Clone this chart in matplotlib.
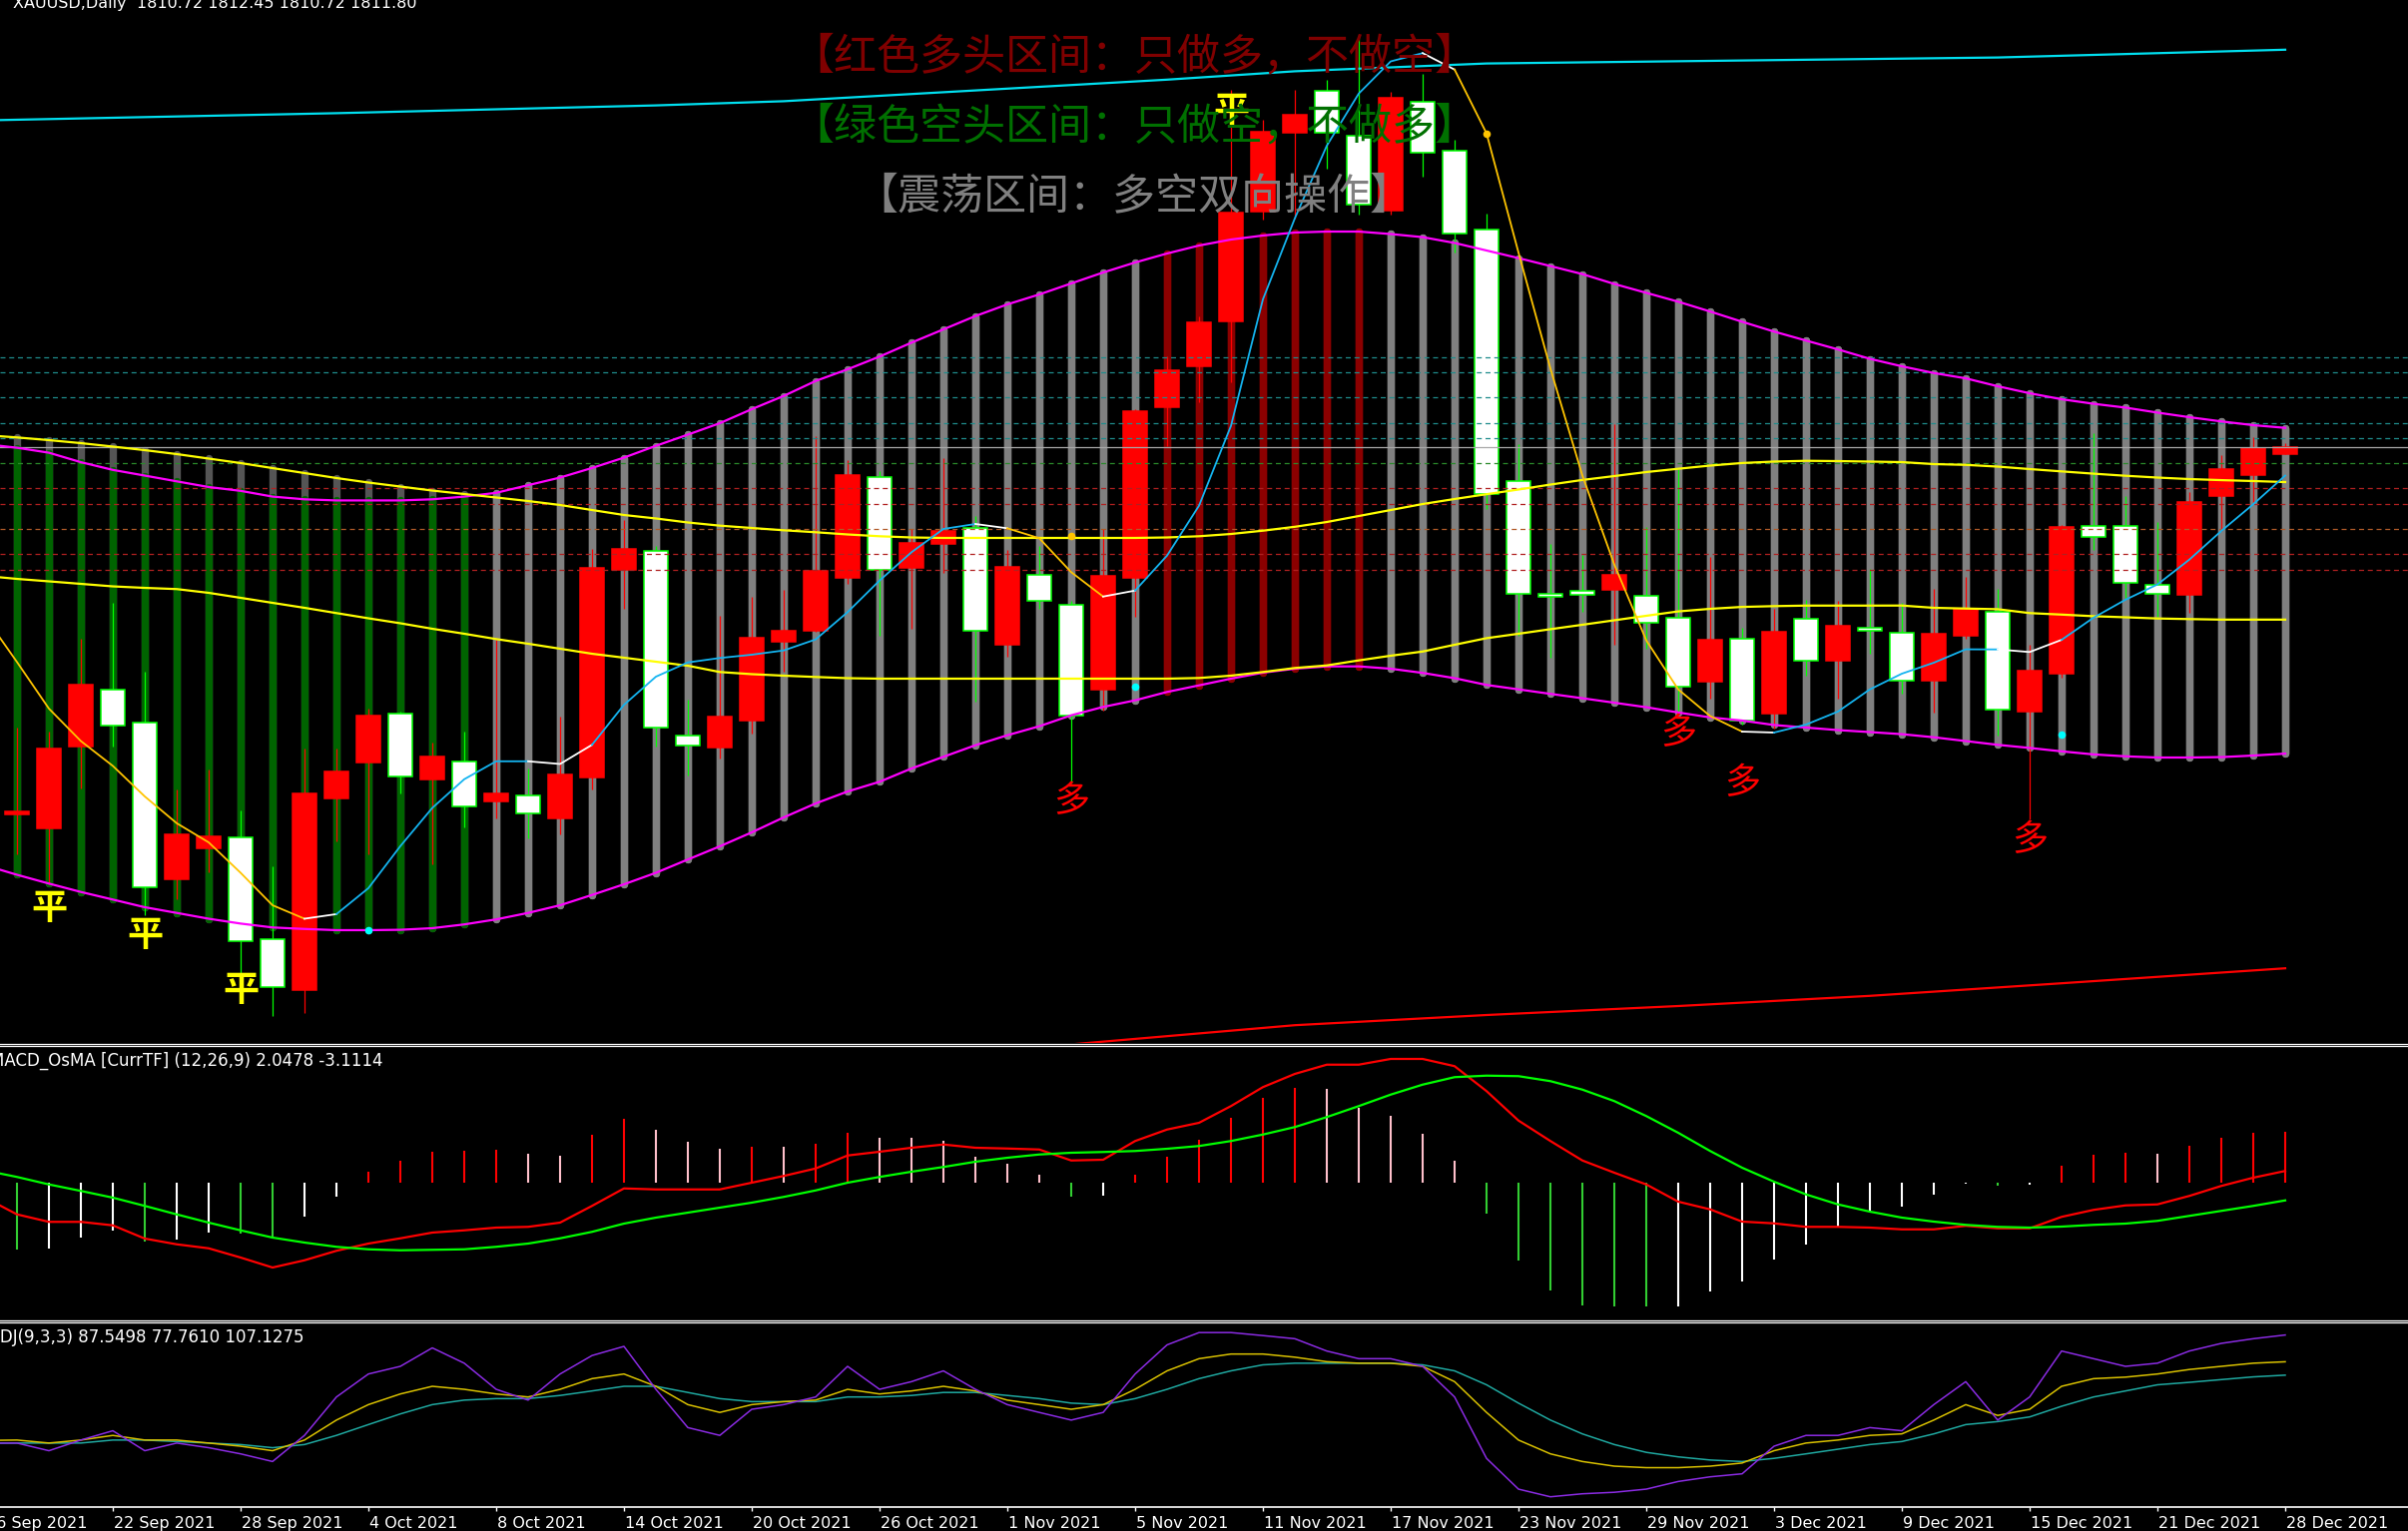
import numpy as np
import matplotlib.pyplot as plt
from matplotlib.lines import Line2D
from matplotlib import transforms

plt.rcParams['font.family'] = ['DejaVu Sans']

W, H = 2412, 1534

# ---- daily XAUUSD candles, bar 0 = 17 Sep 2021 ... bar 71 = 28 Dec 2021 ----
opens = [1750.5, 1748.2, 1761.9, 1771.4, 1765.9, 1739.6, 1744.9, 1746.7, 1729.6, 1721.2,
         1753.1, 1759.2, 1767.3, 1756.4, 1759.4, 1752.7, 1753.75, 1749.9, 1756.7, 1791.3,
         1794.45, 1763.7, 1761.7, 1766.2, 1779.4, 1781.1, 1789.95, 1806.8, 1791.7, 1795.7,
         1798.3, 1778.9, 1790.45, 1785.45, 1771.4, 1789.95, 1818.55, 1825.4, 1832.9, 1851.2,
         1864.3, 1871.3, 1863.8, 1851.4, 1869.45, 1861.4, 1848.1, 1806.1, 1787.4, 1787.9,
         1788.0, 1787.0, 1783.3, 1772.7, 1779.8, 1767.3, 1783.1, 1776.1, 1781.7, 1780.8,
         1772.8, 1780.4, 1784.3, 1767.7, 1774.0, 1798.6, 1798.6, 1788.9, 1787.2, 1803.6,
         1807.2, 1810.72]
highs = [1765.0, 1764.3, 1779.8, 1785.8, 1774.4, 1754.6, 1758.0, 1751.1, 1741.9, 1761.5,
         1761.5, 1768.2, 1767.7, 1762.5, 1764.3, 1779.7, 1758.2, 1766.9, 1794.9, 1799.7,
         1795.4, 1769.7, 1783.6, 1786.9, 1788.0, 1813.7, 1809.7, 1807.9, 1798.2, 1810.0,
         1800.3, 1794.7, 1795.4, 1786.1, 1798.2, 1818.2, 1827.05, 1833.7, 1871.5, 1866.5,
         1871.5, 1873.2, 1880.7, 1871.1, 1874.1, 1863.2, 1850.8, 1812.3, 1795.6, 1793.8,
         1815.7, 1798.5, 1808.2, 1793.5, 1781.7, 1784.8, 1786.4, 1786.2, 1791.5, 1785.9,
         1788.1, 1790.2, 1788.1, 1778.8, 1798.9, 1814.1, 1803.6, 1799.4, 1804.3, 1810.45,
         1813.45, 1812.45]
lows = [1743.8, 1738.8, 1754.8, 1761.9, 1733.7, 1736.4, 1740.9, 1723.5, 1716.8, 1717.3,
        1746.0, 1743.9, 1754.0, 1742.1, 1748.4, 1749.8, 1746.5, 1747.2, 1754.6, 1784.9,
        1761.9, 1757.0, 1759.8, 1764.0, 1774.3, 1781.0, 1789.0, 1780.4, 1781.5, 1790.9,
        1769.4, 1776.9, 1784.8, 1755.7, 1767.9, 1783.45, 1812.05, 1819.3, 1822.7, 1849.8,
        1850.0, 1858.4, 1850.7, 1850.7, 1856.95, 1844.3, 1801.5, 1780.3, 1776.6, 1784.4,
        1778.8, 1778.1, 1767.7, 1769.9, 1765.5, 1764.8, 1773.7, 1769.8, 1777.3, 1770.7,
        1767.5, 1779.8, 1763.7, 1749.7, 1773.3, 1794.6, 1786.7, 1783.5, 1784.25, 1797.8,
        1802.7, 1810.72]
closes = [1751.0, 1761.5, 1772.2, 1765.3, 1738.3, 1747.2, 1746.8, 1729.3, 1721.6, 1754.0,
          1757.6, 1767.0, 1756.9, 1760.1, 1751.8, 1754.0, 1750.75, 1757.1, 1791.6, 1794.8,
          1765.0, 1762.05, 1766.9, 1780.0, 1781.1, 1791.2, 1807.2, 1791.4, 1795.8, 1797.8,
          1781.1, 1791.9, 1786.2, 1766.95, 1790.3, 1817.8, 1824.7, 1832.6, 1851.0, 1864.55,
          1867.3, 1864.4, 1852.3, 1870.2, 1861.0, 1847.5, 1804.0, 1787.4, 1786.8, 1787.2,
          1790.5, 1782.5, 1771.9, 1779.6, 1766.2, 1781.0, 1776.2, 1782.0, 1781.1, 1772.8,
          1780.7, 1784.75, 1768.0, 1774.5, 1798.5, 1796.9, 1789.1, 1787.4, 1802.7, 1808.2,
          1811.7, 1811.8]

# ---- line indicators, first value is the bar before 17 Sep (visible at left edge) ----
band_up = [1812.33,
           1811.73, 1810.9, 1809.32, 1808.03, 1807.08, 1806.12, 1805.17, 1804.53, 1803.57, 1803.12,
           1802.93, 1802.93, 1802.93, 1803.12, 1803.57, 1804.2, 1805.48, 1806.75, 1808.35, 1810.08,
           1812.05, 1813.92, 1815.83, 1818.17, 1820.38, 1822.88, 1824.83, 1826.95, 1829.28, 1831.5,
           1833.72, 1835.67, 1837.33, 1839.17, 1841.0, 1842.67, 1844.17, 1845.5, 1846.5, 1847.17,
           1847.67, 1847.83, 1847.83, 1847.42, 1846.9, 1845.93, 1844.67, 1843.4, 1842.07, 1840.73,
           1839.08, 1837.6, 1836.12, 1834.48, 1832.77, 1831.13, 1829.63, 1828.15, 1826.58, 1825.33,
           1824.21, 1823.32, 1822.0, 1820.83, 1819.83, 1819.07, 1818.43, 1817.6, 1816.83, 1816.13,
           1815.5, 1815.05]
band_lo = [1742.0,
           1740.42, 1738.95, 1737.55, 1736.28, 1735.0, 1734.05, 1733.08, 1732.27, 1731.62, 1731.37,
           1731.17, 1731.17, 1731.23, 1731.5, 1732.13, 1732.97, 1734.05, 1735.33, 1737.05, 1738.83,
           1740.75, 1742.97, 1745.17, 1747.5, 1750.0, 1752.33, 1754.33, 1755.95, 1758.17, 1760.12,
           1762.05, 1763.72, 1765.22, 1767.05, 1768.45, 1769.55, 1770.95, 1772.05, 1773.17, 1774.17,
           1774.83, 1775.22, 1775.22, 1774.83, 1774.13, 1773.25, 1772.12, 1771.38, 1770.63, 1769.9,
           1769.15, 1768.4, 1767.52, 1766.7, 1766.17, 1765.43, 1765.0, 1764.58, 1764.25, 1763.9,
           1763.38, 1762.75, 1762.12, 1761.6, 1761.03, 1760.52, 1760.2, 1760.0, 1760.0, 1760.07,
           1760.33, 1760.65]
ma_a = [1813.83,
        1813.45, 1813.0, 1812.5, 1811.92, 1811.33, 1810.67, 1809.92, 1809.17, 1808.33, 1807.5,
        1806.67, 1805.92, 1805.25, 1804.58, 1804.0, 1803.42, 1802.83, 1802.17, 1801.33, 1800.5,
        1799.92, 1799.25, 1798.72, 1798.33, 1797.95, 1797.62, 1797.25, 1796.95, 1796.75, 1796.67,
        1796.67, 1796.67, 1796.67, 1796.67, 1796.67, 1796.67, 1796.75, 1796.95, 1797.33, 1797.88,
        1798.53, 1799.33, 1800.33, 1801.33, 1802.33, 1803.17, 1803.97, 1804.75, 1805.58, 1806.35,
        1807.0, 1807.67, 1808.22, 1808.75, 1809.18, 1809.42, 1809.55, 1809.5, 1809.42, 1809.33,
        1809.0, 1808.87, 1808.58, 1808.17, 1807.78, 1807.4, 1807.05, 1806.75, 1806.5, 1806.32,
        1806.17, 1806.0]
ma_b = [1790.33,
        1789.83, 1789.42, 1789.0, 1788.58, 1788.33, 1788.13, 1787.5, 1786.67, 1785.83, 1785.0,
        1784.12, 1783.25, 1782.42, 1781.5, 1780.67, 1779.78, 1779.0, 1778.17, 1777.33, 1776.67,
        1776.0, 1775.33, 1774.28, 1773.92, 1773.67, 1773.45, 1773.25, 1773.17, 1773.17, 1773.17,
        1773.17, 1773.17, 1773.17, 1773.17, 1773.17, 1773.17, 1773.17, 1773.28, 1773.67, 1774.28,
        1774.95, 1775.38, 1776.22, 1777.0, 1777.7, 1778.83, 1779.93, 1780.67, 1781.43, 1782.17,
        1782.92, 1783.67, 1784.4, 1784.83, 1785.15, 1785.28, 1785.37, 1785.37, 1785.37, 1785.38,
        1785.0, 1784.88, 1784.77, 1784.12, 1783.87, 1783.6, 1783.42, 1783.22, 1783.12, 1783.03,
        1783.03, 1783.03]
fast = [1783.53,
        1775.95, 1768.17, 1762.75, 1758.6, 1753.5, 1749.03, 1745.83, 1740.75, 1735.33, 1733.08,
        1733.85, 1738.18, 1745.2, 1751.58, 1756.37, 1759.37, 1759.37, 1758.92, 1762.12, 1768.8,
        1773.5, 1775.88, 1776.62, 1777.17, 1777.88, 1779.72, 1784.28, 1789.55, 1794.28, 1798.17,
        1799.0, 1798.28, 1796.62, 1790.95, 1786.88, 1787.88, 1793.72, 1802.05, 1815.38, 1836.5,
        1850.05, 1862.17, 1870.88, 1876.25, 1877.63, 1874.88, 1864.23, 1844.33, 1824.95, 1807.1,
        1792.22, 1779.57, 1771.38, 1766.92, 1764.33, 1764.17, 1765.5, 1767.67, 1771.38, 1774.0,
        1775.83, 1778.07, 1778.05, 1777.62, 1779.65, 1783.35, 1786.35, 1788.9, 1793.05, 1797.83,
        1802.3, 1807.08]
# colour of the fast line between bars: (from, to, colour)
fast_seg = [(-1, 9, 'o'), (9, 10, 'w'), (10, 16, 'b'), (16, 18, 'w'), (18, 30, 'b'),
            (30, 31, 'w'), (31, 34, 'o'), (34, 35, 'w'), (35, 44, 'b'), (44, 45, 'w'),
            (45, 54, 'o'), (54, 55, 'w'), (55, 62, 'b'), (62, 64, 'w'), (64, 71, 'b')]

# long envelope lines (read at a few bars)
env_up_k = [-1, 10, 20, 24, 30, 36, 40, 46, 54, 62, 71]
env_up = [1866.4, 1867.6, 1868.9, 1869.6, 1871.4, 1873.2, 1874.6, 1875.9, 1876.4, 1876.9, 1878.2]
env_lo_k = [33, 40, 46, 52, 58, 64, 71]
env_lo = [1712.1, 1715.3, 1717.0, 1718.5, 1720.2, 1722.3, 1724.8]

# trend state of the channel bars: g = bear, n = range, r = bull
zone = 'g' * 15 + 'n' * 21 + 'r' * 7 + 'n' * 29

# horizontal levels
levels = [1826.8, 1824.3, 1820.1, 1815.8, 1813.3, 1809.1, 1805.0, 1802.3, 1798.2, 1794.0, 1791.3]
level_kind = ['t', 't', 't', 't', 't', 'g', 'r', 'r', 'o', 'r', 'r']

# signals
ping_k = [1, 4, 7, 38]
ping_p = [1734.67, 1730.22, 1721.0, 1867.92]
duo_k = [33, 52, 54, 63]
duo_p = [1752.67, 1764.0, 1755.67, 1746.17]
gold_dot_k = [33, 46]
gold_dot_p = [1797.05, 1864.23]
cyan_dot_k = [11, 35, 64]
cyan_dot_p = [1731.17, 1771.83, 1763.9]

# ---- MACD_OsMA ----
osma = [-2.67, -2.63, -2.2, -1.93, -2.36, -2.27, -2.0, -2.04, -2.2, -1.36,
        -0.56, 0.44, 0.88, 1.24, 1.28, 1.32, 1.16, 1.08, 1.92, 2.56,
        2.12, 1.64, 1.36, 1.44, 1.44, 1.56, 2.0, 1.8, 1.8, 1.68,
        1.04, 0.76, 0.32, -0.56, -0.5, 0.32, 1.04, 1.73, 2.6, 3.4,
        3.8, 3.76, 3.0, 2.68, 1.96, 0.88, -1.24, -3.11, -4.31, -4.91,
        -4.97, -4.97, -4.95, -4.36, -3.95, -3.07, -2.47, -1.77, -1.16, -0.95,
        -0.47, -0.04, -0.13, -0.07, 0.68, 1.12, 1.2, 1.16, 1.48, 1.8,
        2.0, 2.05]
osma_col = ('gwwwgwwggw' 'wrrrrrpprr' 'ppprprrppp' 'pppgwrrrrr'
            'rpppppgggg' 'ggwwwwwwww' 'wwgwrrrprr' 'rr')
macd_line = [-0.6,
             -1.27, -1.57, -1.57, -1.71, -2.24, -2.47, -2.63, -3.0, -3.4, -3.11,
             -2.73, -2.44, -2.23, -2.0, -1.91, -1.8, -1.77, -1.6, -0.93, -0.23,
             -0.27, -0.27, -0.27, 0.0, 0.27, 0.57, 1.09, 1.24, 1.4, 1.53,
             1.4, 1.37, 1.33, 0.89, 0.92, 1.67, 2.13, 2.4, 3.07, 3.83,
             4.36, 4.73, 4.73, 4.96, 4.96, 4.67, 3.67, 2.49, 1.67, 0.89,
             0.4, -0.07, -0.76, -1.07, -1.56, -1.63, -1.77, -1.77, -1.8, -1.87,
             -1.87, -1.73, -1.83, -1.83, -1.37, -1.09, -0.91, -0.87, -0.53, -0.13,
             0.2, 0.47]
macd_sig = [0.49,
            0.23, -0.07, -0.33, -0.6, -0.93, -1.27, -1.6, -1.91, -2.2, -2.4,
            -2.57, -2.67, -2.71, -2.69, -2.67, -2.57, -2.44, -2.23, -1.97, -1.64,
            -1.4, -1.2, -1.0, -0.8, -0.57, -0.31, 0.0, 0.23, 0.44, 0.63,
            0.84, 1.0, 1.13, 1.2, 1.23, 1.27, 1.36, 1.47, 1.67, 1.93,
            2.23, 2.63, 3.07, 3.53, 3.93, 4.23, 4.29, 4.27, 4.07, 3.73,
            3.27, 2.67, 2.0, 1.27, 0.6, 0.04, -0.47, -0.87, -1.16, -1.4,
            -1.56, -1.69, -1.77, -1.8, -1.76, -1.69, -1.64, -1.53, -1.33, -1.13,
            -0.93, -0.71]

# ---- KDJ(9,3,3) ----
kdj_k = [30.0,
         30.3, 28.1, 30.3, 33.7, 30.3, 30.3, 28.1, 25.8, 22.5, 30.3,
         44.9, 56.2, 64.0, 69.6, 67.4, 64.0, 61.8, 67.4, 75.2, 78.6,
         69.6, 56.2, 50.5, 56.2, 58.4, 59.5, 67.4, 64.0, 66.2, 69.6,
         66.2, 59.5, 56.2, 52.8, 56.2, 67.4, 80.9, 89.8, 93.2, 93.2,
         90.9, 87.6, 86.5, 86.5, 84.2, 73.0, 50.5, 30.3, 20.2, 14.6,
         11.2, 10.1, 10.1, 11.2, 13.5, 22.5, 28.1, 30.3, 33.7, 34.8,
         44.9, 56.2, 48.3, 52.8, 69.6, 75.2, 76.3, 78.6, 81.9, 84.2,
         86.5, 87.55]
kdj_d = [28.0,
         28.1, 28.1, 28.1, 30.3, 30.3, 29.2, 28.1, 27.0, 24.7, 27.0,
         33.7, 41.6, 49.4, 56.2, 59.5, 60.6, 60.6, 62.9, 66.2, 69.6,
         69.6, 65.1, 60.6, 58.4, 58.4, 58.4, 61.8, 61.8, 62.9, 65.1,
         65.1, 62.9, 60.6, 57.3, 56.2, 60.6, 67.4, 75.2, 80.9, 85.3,
         86.5, 86.5, 86.5, 86.5, 85.3, 80.9, 70.7, 57.3, 44.9, 34.8,
         27.0, 21.3, 18.0, 15.7, 14.6, 16.9, 20.2, 23.6, 27.0, 29.2,
         34.8, 41.6, 43.8, 47.2, 55.0, 61.8, 66.2, 70.7, 72.5, 74.5,
         76.5, 77.76]
kdj_j = [28.0,
         28.1, 22.5, 30.3, 37.1, 22.5, 28.1, 24.7, 20.2, 14.6, 33.7,
         61.8, 78.6, 84.2, 97.7, 86.5, 67.4, 59.5, 78.6, 92.1, 98.8,
         67.4, 39.4, 33.7, 52.8, 56.2, 61.8, 84.2, 67.4, 73.0, 80.9,
         67.4, 56.2, 50.5, 44.9, 50.5, 78.6, 99.9, 108.9, 108.9, 106.7,
         104.4, 95.4, 89.8, 89.8, 84.2, 61.8, 16.9, -5.6, -11.2, -9.0,
         -7.9, -5.6, 0.0, 3.4, 5.6, 25.8, 33.7, 33.7, 39.4, 37.1,
         56.2, 73.0, 44.9, 61.8, 95.4, 89.8, 84.2, 86.5, 95.4, 101.0,
         104.4, 107.13]

date_k = [-1, 3, 7, 11, 15, 19, 23, 27, 31, 35, 39, 43, 47, 51, 55, 59, 63, 67, 71]
date_lbl = ['16 Sep 2021', '22 Sep 2021', '28 Sep 2021', '4 Oct 2021', '8 Oct 2021',
            '14 Oct 2021', '20 Oct 2021', '26 Oct 2021', '1 Nov 2021', '5 Nov 2021',
            '11 Nov 2021', '17 Nov 2021', '23 Nov 2021', '29 Nov 2021', '3 Dec 2021',
            '9 Dec 2021', '15 Dec 2021', '21 Dec 2021', '28 Dec 2021']

# ---------------------------------------------------------------------------
k = np.arange(len(opens))
kl = np.arange(-1, len(opens))
o, h, l, c = map(np.array, (opens, highs, lows, closes))
up_, lo_ = np.array(band_up), np.array(band_lo)
XLIM = (-17 / 32, (W - 17) / 32)   # 32 px per bar, bar 0 centred 17 px from the left

fig = plt.figure(figsize=(W / 100, H / 100), dpi=100, facecolor='black')


def rows(top, bottom):
    return [0, 1 - bottom / H, 1, (bottom - top) / H]


ax = fig.add_axes(rows(0, 1045))
ax2 = fig.add_axes(rows(1049, 1322))
ax3 = fig.add_axes(rows(1326, 1510))
for a in (ax, ax2, ax3):
    a.set_facecolor('black')
    a.set_yticks([])
    for s in a.spines.values():
        s.set_visible(False)
ax.set_xticks([])
ax2.set_xticks([])
ax.set_ylim(1886.5 - 1045 / 6, 1886.5)
ax2.set_ylim(-5.48, 5.44)
ax3.set_ylim(-18.7, 115.6)

for y in (1045.5, 1047.5, 1322.5, 1324.5):
    fig.add_artist(Line2D([0, 1], [1 - y / H] * 2, transform=fig.transFigure,
                          color='white', lw=0.9))

# channel bars
zone_col = {'g': '#006400', 'n': '#808080', 'r': '#8b0000'}
top = np.maximum(up_[1:], np.array(ma_a[1:]))
back = ['#555555' if z == 'g' else zone_col[z] for z in zone]
ax.vlines(k, lo_[1:], top, colors=back, lw=5.3, capstyle='round', zorder=1)
ax.vlines(k, lo_[1:], up_[1:], colors=[zone_col[z] for z in zone], lw=5.3,
          capstyle='round', zorder=1.1)

# candles (red = up, white = down)
rise = c >= o
ax.vlines(k, l, h, colors=np.where(rise, '#ff0000', '#00ff00'), lw=0.9, zorder=2)
ax.bar(k, np.maximum(np.abs(c - o), 0.4), bottom=np.minimum(o, c), width=0.78,
       color=np.where(rise, '#ff0000', '#ffffff'),
       edgecolor=np.where(rise, '#ff0000', '#00ff00'), linewidth=1.1, zorder=2.1)

# levels
lev_col = {'t': '#1f8c8c', 'g': '#2a8a2a', 'r': '#b02020', 'o': '#b05a28'}
for p, kd in zip(levels, level_kind):
    ax.axhline(p, color=lev_col[kd], lw=0.9, ls=(0, (4, 3)), zorder=2.5)
ax.axhline(closes[-1], color='#a8a8a8', lw=0.9, zorder=2.5)

# indicator lines
ax.plot(kl, band_up, color='#ff00ff', lw=1.6, zorder=3)
ax.plot(kl, band_lo, color='#ff00ff', lw=1.6, zorder=3)
ax.plot(kl, ma_a, color='#ffff00', lw=1.6, zorder=3)
ax.plot(kl, ma_b, color='#ffff00', lw=1.6, zorder=3)
ax.plot(env_up_k, env_up, color='#00e0f0', lw=1.6, zorder=3)
ax.plot(env_lo_k, env_lo, color='#ff0000', lw=1.6, zorder=3)
seg_col = {'o': '#ffc400', 'w': '#ffffff', 'b': '#14b4f0'}
fa = np.array(fast)
for a0, a1, cc in fast_seg:
    ax.plot(np.arange(a0, a1 + 1), fa[a0 + 1:a1 + 2], color=seg_col[cc], lw=1.3, zorder=3.1)
ax.scatter(gold_dot_k, gold_dot_p, s=30, color='#ffc400', zorder=3.2, linewidths=0)
ax.scatter(cyan_dot_k, cyan_dot_p, s=30, color='#00ffff', zorder=3.2, linewidths=0)

cjk = ['Noto Sans CJK SC', 'DejaVu Sans']
for xk, p in zip(ping_k, ping_p):
    ax.text(xk, p, '平', color='#ffff00', fontsize=26, fontweight='bold', family=cjk,
            ha='center', va='center', zorder=5)
for xk, p in zip(duo_k, duo_p):
    ax.text(xk, p, '多', color='#ff0000', fontsize=26, family=cjk,
            ha='center', va='center', zorder=5)

fig.text(1136 / W, 1 - 57 / H, '【红色多头区间：只做多，不做空】', color='#800000',
         fontsize=31, family=cjk, ha='center', va='center', zorder=6)
fig.text(1136 / W, 1 - 127 / H, '【绿色空头区间：只做空，不做多】', color='#007000',
         fontsize=31, family=cjk, ha='center', va='center', zorder=6)
fig.text(1136 / W, 1 - 197 / H, '【震荡区间：多空双向操作】', color='#808080',
         fontsize=31, family=cjk, ha='center', va='center', zorder=6)

fig.text(13 / W, 1 - 8 / H, 'XAUUSD,Daily  1810.72 1812.45 1810.72 1811.80', color='white',
         fontsize=11.5, ha='left', va='baseline')
fig.text(-10 / W, 1 - 1068 / H, 'MACD_OsMA [CurrTF] (12,26,9) 2.0478 -3.1114', color='white',
         fontsize=12, ha='left', va='baseline')
fig.text(-11 / W, 1 - 1345 / H, 'KDJ(9,3,3) 87.5498 77.7610 107.1275', color='white',
         fontsize=12, ha='left', va='baseline')

# MACD panel
hist_col = {'r': '#ff0000', 'p': '#ffc0cb', 'g': '#32cd32', 'w': '#ffffff'}
ax2.vlines(k, 0, osma, colors=[hist_col[x] for x in osma_col], lw=1.5)
ax2.plot(kl, macd_line, color='#ff0000', lw=1.6)
ax2.plot(kl, macd_sig, color='#00ff00', lw=1.6)

# KDJ panel
ax3.plot(kl, kdj_d, color='#1fa8a0', lw=1.1)
ax3.plot(kl, kdj_k, color='#d8c000', lw=1.1)
ax3.plot(kl, kdj_j, color='#8a2be2', lw=1.1)
ax3.spines['bottom'].set_visible(True)
ax3.spines['bottom'].set_color('white')
ax3.spines['bottom'].set_linewidth(1.2)
ax3.set_xticks(date_k)
ax3.tick_params(axis='x', colors='white', length=3, width=1, labelbottom=False)

# set_xticks widens the view, so fix the bar scale afterwards on every panel
for a in (ax, ax2, ax3):
    a.set_xlim(*XLIM)

# date labels start at their tick, like the terminal draws them
lbl_tr = transforms.blended_transform_factory(ax3.transData, fig.transFigure)
for xk, s in zip(date_k, date_lbl):
    ax3.text(xk + 1 / 32, 1 - 1531 / H, s, transform=lbl_tr, color='white', fontsize=11.5,
             ha='left', va='baseline', clip_on=False)

fig.savefig('out.png', dpi=100, facecolor='black')
